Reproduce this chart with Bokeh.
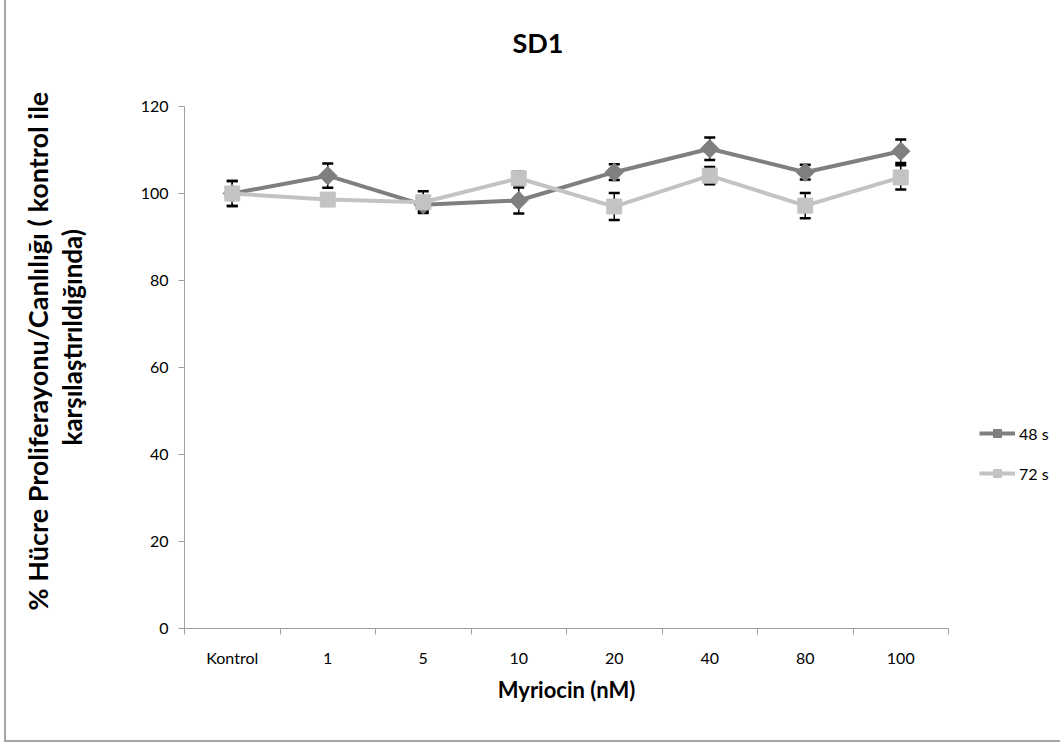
import numpy as np
from bokeh.plotting import figure
from bokeh.models import (ColumnDataSource, Range1d, FixedTicker, Whisker, TeeHead,
                          Title, Legend, LegendItem)
from bokeh.embed import file_html
from bokeh.resources import INLINE

# ---- data ----
categories = ["Kontrol", "1", "5", "10", "20", "40", "80", "100"]
s48 = [100.0, 104.1, 97.4, 98.4, 104.9, 110.3, 104.9, 109.7]
s72 = [100.0, 98.6, 98.0, 103.5, 97.0, 104.1, 97.2, 103.7]
err48 = [2.9, 2.8, 1.5, 3.0, 1.8, 2.6, 1.7, 2.7]
err72 = [2.9, 1.2, 2.5, 1.5, 3.1, 2.0, 2.9, 2.8]
yticks = [0, 20, 40, 60, 80, 100, 120]
series_names = ["48 s", "72 s"]
title_text = "SD1"
xlabel = "Myriocin (nM)"
ylabel_lines = ["% Hücre Proliferayonu/Canlılığı ( kontrol ile", "karşılaştırıldığında)"]

FONT = "Lato"
C48 = "#7f7f7f"
C72 = "#c3c3c3"
AX = "#a0a0a0"

x = (np.arange(len(categories)) + 0.5).tolist()

p = figure(frame_width=764, frame_height=522, output_backend="svg", toolbar_location=None,
           x_range=Range1d(0, len(categories)), y_range=Range1d(yticks[0], yticks[-1]),
           min_border_left=178, min_border_right=112, min_border_top=106, min_border_bottom=112)
p.styles = {"margin-left": "4px", "border-left": "2px solid #a6a6a6",
            "border-bottom": "2px solid #a6a6a6"}
p.background_fill_color = "white"
p.border_fill_color = "white"
p.outline_line_color = None
p.grid.visible = False

# x axis: labels at category centres, ticks at boundaries
xa = p.xaxis[0]
xa.ticker = FixedTicker(ticks=x, minor_ticks=list(range(0, len(categories) + 1)))
xa.major_label_overrides = {float(xi): c for xi, c in zip(x, categories)}
xa.major_tick_line_color = None
xa.major_tick_in = 0
xa.major_tick_out = 0
xa.minor_tick_line_color = AX
xa.minor_tick_in = 0
xa.minor_tick_out = 6
xa.axis_line_color = AX
xa.major_label_standoff = 13
xa.major_label_text_font = FONT
xa.major_label_text_font_size = "16px"
xa.major_label_text_color = "black"
xa.axis_label = xlabel
xa.axis_label_text_font = FONT
xa.axis_label_text_font_size = "22px"
xa.axis_label_text_font_style = "bold"
xa.axis_label_text_color = "black"
xa.axis_label_standoff = 6

ya = p.yaxis[0]
ya.ticker = FixedTicker(ticks=yticks)
ya.major_tick_line_color = AX
ya.major_tick_in = 0
ya.major_tick_out = 6
ya.minor_tick_line_color = None
ya.axis_line_color = AX
ya.major_label_standoff = 10
ya.major_label_text_font = FONT
ya.major_label_text_font_size = "16px"
ya.major_label_text_color = "black"

src48 = ColumnDataSource(dict(x=x, y=s48, up=[a + b for a, b in zip(s48, err48)],
                              lo=[a - b for a, b in zip(s48, err48)]))
src72 = ColumnDataSource(dict(x=x, y=s72, up=[a + b for a, b in zip(s72, err72)],
                              lo=[a - b for a, b in zip(s72, err72)]))

for src in (src48, src72):
    w = Whisker(base="x", upper="up", lower="lo", source=src, dimension="height",
                line_color="black", line_width=1.5,
                upper_head=TeeHead(size=11, line_color="black", line_width=2.5),
                lower_head=TeeHead(size=11, line_color="black", line_width=2.5))
    p.add_layout(w)

l48 = p.line("x", "y", source=src48, line_width=4, line_color=C48, line_join="round")
m48 = p.scatter("x", "y", source=src48, marker="square", angle=np.pi / 4, size=13,
                fill_color=C48, line_color=C48)
l72 = p.line("x", "y", source=src72, line_width=4, line_color=C72, line_join="round")
m72 = p.scatter("x", "y", source=src72, marker="square", size=15,
                fill_color=C72, line_color=C72)

legend = Legend(items=[LegendItem(label=series_names[0], renderers=[l48, m48]),
                       LegendItem(label=series_names[1], renderers=[l72, m72])],
                location=(31, 145), glyph_width=36, glyph_height=20, spacing=20,
                padding=0, margin=0, border_line_color=None, background_fill_alpha=0,
                label_text_font=FONT, label_text_font_size="16px", label_standoff=4,
                label_text_color="black")
p.add_layout(legend, "right")

# above: spacer next to the frame, then the chart title
p.add_layout(Title(text=" ", text_font_size="10px", standoff=33), "above")
p.add_layout(Title(text=title_text, align="left", vertical_align="top", offset=328,
                   standoff=0, text_color="black",
                   text_font=FONT, text_font_size="27px", text_font_style="bold"), "above")

# left: spacer next to the axis, then the two lines of the axis title
p.add_layout(Title(text=" ", text_font_size="10px", standoff=35), "left")
p.add_layout(Title(text=ylabel_lines[1], align="left", vertical_align="top", offset=183,
                   standoff=0, text_color="black", text_line_height=0.65,
                   text_font=FONT, text_font_size="26px", text_font_style="bold"), "left")
p.add_layout(Title(text=ylabel_lines[0], align="left", vertical_align="top", offset=18,
                   standoff=0, text_color="black", text_line_height=0.65,
                   text_font=FONT, text_font_size="27px", text_font_style="bold"), "left")

open("out.html", "w").write(file_html(p, INLINE))
